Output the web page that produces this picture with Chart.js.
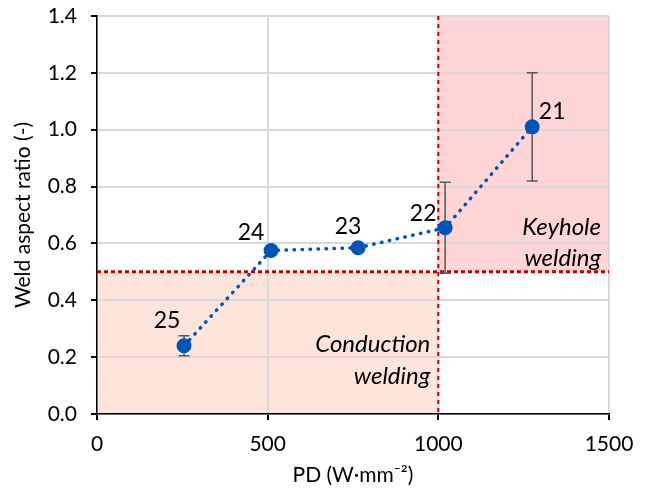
<!DOCTYPE html>
<html>
<head>
<meta charset="utf-8">
<script src="https://cdn.jsdelivr.net/npm/chart.js@4/dist/chart.umd.min.js"></script>
<style>
  html, body { margin: 0; padding: 0; background: #ffffff; }
  #wrap { width: 646px; height: 492px; }
</style>
</head>
<body>
<div id="wrap"><canvas id="chart" width="646" height="492"></canvas></div>
<script>
// power density (W/mm^2) and weld aspect ratio
const pd_values = [255, 510, 765, 1020, 1275];
const aspect_ratio = [0.24, 0.575, 0.585, 0.655, 1.01];
const aspect_err = [0.035, 0.01, 0.01, 0.16, 0.19];
const sample_ids = ['25', '24', '23', '22', '21'];

const x_ticks = [0, 500, 1000, 1500];
const pd_limit = 1000;     // vertical boundary line
const ratio_limit = 0.5;   // horizontal boundary line

const FONT = 'Lato, "Open Sans", sans-serif';
const blue = '#0055b8';
const red = '#c00000';

// label centre offset from each marker
const label_dx = [-17, -20, -10, -22, 20];
const label_dy = [-25, -18, -21, -14, -15];

var regionsPlugin = {
  id: 'regions',
  beforeDraw: function(chart) {
    var ctx = chart.ctx, x = chart.scales.x, y = chart.scales.y;
    ctx.save();
    // conduction region
    ctx.fillStyle = '#fde5dc';
    ctx.fillRect(x.getPixelForValue(0), y.getPixelForValue(ratio_limit),
      x.getPixelForValue(pd_limit) - x.getPixelForValue(0),
      y.getPixelForValue(0) - y.getPixelForValue(ratio_limit));
    // keyhole region
    ctx.fillStyle = '#ffd5d5';
    ctx.fillRect(x.getPixelForValue(pd_limit), y.getPixelForValue(1.4),
      x.getPixelForValue(1500) - x.getPixelForValue(pd_limit),
      y.getPixelForValue(ratio_limit) - y.getPixelForValue(1.4));
    ctx.restore();
  },
  beforeDatasetsDraw: function(chart) {
    var ctx = chart.ctx, x = chart.scales.x, y = chart.scales.y;
    var area = chart.chartArea;
    ctx.save();
    // boundary lines
    ctx.strokeStyle = red;
    ctx.lineWidth = 3;
    ctx.setLineDash([4, 3]);
    ctx.beginPath();
    ctx.moveTo(area.left, y.getPixelForValue(ratio_limit));
    ctx.lineTo(area.right, y.getPixelForValue(ratio_limit));
    ctx.stroke();
    ctx.lineWidth = 2;
    ctx.setLineDash([4, 4]);
    ctx.beginPath();
    ctx.moveTo(x.getPixelForValue(pd_limit), area.top);
    ctx.lineTo(x.getPixelForValue(pd_limit), area.bottom);
    ctx.stroke();
    ctx.setLineDash([]);

    // region captions
    ctx.fillStyle = '#000000';
    ctx.font = 'italic 24px ' + FONT;
    ctx.textAlign = 'right';
    ctx.textBaseline = 'middle';
    ctx.fillText('Keyhole', area.right - 8, 227);
    ctx.fillText('welding', area.right - 8, 258);
    ctx.fillText('Conduction', x.getPixelForValue(pd_limit) - 8, 344);
    ctx.fillText('welding', x.getPixelForValue(pd_limit) - 8, 376);

    // error bars
    ctx.strokeStyle = '#595959';
    ctx.lineWidth = 1.5;
    for (var i = 0; i < pd_values.length; i++) {
      var px = x.getPixelForValue(pd_values[i]);
      var top = y.getPixelForValue(aspect_ratio[i] + aspect_err[i]);
      var bot = y.getPixelForValue(aspect_ratio[i] - aspect_err[i]);
      ctx.beginPath();
      ctx.moveTo(px, top); ctx.lineTo(px, bot);
      ctx.moveTo(px - 5.5, top); ctx.lineTo(px + 5.5, top);
      ctx.moveTo(px - 5.5, bot); ctx.lineTo(px + 5.5, bot);
      ctx.stroke();
    }
    ctx.restore();
  },
  afterDatasetsDraw: function(chart) {
    var ctx = chart.ctx, x = chart.scales.x, y = chart.scales.y;
    ctx.save();
    ctx.fillStyle = '#000000';
    ctx.font = '23px ' + FONT;
    ctx.textBaseline = 'middle';
    ctx.textAlign = 'center';
    for (var i = 0; i < pd_values.length; i++) {
      ctx.fillText(sample_ids[i], x.getPixelForValue(pd_values[i]) + label_dx[i],
        y.getPixelForValue(aspect_ratio[i]) + label_dy[i]);
    }
    ctx.restore();
  }
};

var ctx = document.getElementById('chart').getContext('2d');
var chart = new Chart(ctx, {
  type: 'scatter',
  data: {
    datasets: [{
      data: pd_values.map(function(v, i) { return { x: v, y: aspect_ratio[i] }; }),
      showLine: true,
      borderColor: blue,
      borderWidth: 3.5,
      borderDash: [0.5, 7.5],
      borderCapStyle: 'round',
      backgroundColor: blue,
      pointRadius: 7.5,
      pointBorderWidth: 0,
      pointBackgroundColor: blue
    }]
  },
  options: {
    responsive: false,
    animation: false,
    events: [],
    layout: { padding: { top: 16, right: 37, left: 0, bottom: 0 } },
    plugins: {
      legend: { display: false },
      tooltip: { enabled: false }
    },
    scales: {
      x: {
        type: 'linear',
        min: 0,
        max: 1500,
        afterBuildTicks: function(scale) {
          scale.ticks = x_ticks.map(function(v) { return { value: v }; });
        },
        afterFit: function(scale) { scale.height = 78; },
        border: { color: '#000000', width: 1.5 },
        grid: { color: '#d9d9d9', lineWidth: 2, tickColor: '#000000', tickLength: 6 },
        ticks: {
          color: '#000000',
          font: { family: FONT, size: 21 },
          padding: 12,
          callback: function(v) { return String(v); }
        },
        title: {
          display: true,
          text: 'PD (W·mm⁻²)',
          color: '#000000',
          font: { family: FONT, size: 21 },
          padding: { top: 2 }
        }
      },
      y: {
        min: 0,
        max: 1.4,
        afterFit: function(scale) {
          scale.width = 97;
          // don't let the label overhang push the plot area down
          scale.paddingTop = 0;
          scale.paddingBottom = 0;
        },
        border: { color: '#000000', width: 1.5 },
        grid: { color: '#d9d9d9', lineWidth: 2, tickColor: '#000000', tickLength: 6 },
        ticks: {
          stepSize: 0.2,
          color: '#000000',
          font: { family: FONT, size: 21 },
          padding: 14,
          callback: function(v) { return v.toFixed(1); }
        },
        title: {
          display: true,
          text: 'Weld aspect ratio (-)',
          color: '#000000',
          font: { family: FONT, size: 21 },
          padding: { top: 11, bottom: 0 }
        }
      }
    }
  },
  plugins: [regionsPlugin]
});
</script>
</body>
</html>
